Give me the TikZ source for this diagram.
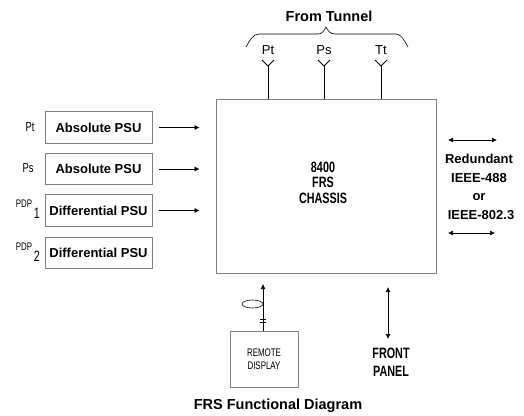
\documentclass[tikz,border=0pt]{standalone}
\usepackage{fontspec}
\setmainfont{Liberation Sans}
\newfontfamily\narrowf[FakeStretch=0.72]{Liberation Sans}
\usetikzlibrary{arrows.meta,calc}
\tikzset{
  x=1pt,y=-1pt,
  grayline/.style={draw=black!50,line width=0.8pt},
  psubox/.style={grayline,minimum width=107pt,minimum height=31.5pt,inner sep=0pt,font=\fontsize{13}{15}\selectfont\bfseries},
  lab/.style={inner sep=0pt,align=center,font=\fontsize{15}{17}\selectfont\narrowf\bfseries},
  biglab/.style={inner sep=0pt,font=\fontsize{14.5}{16}\selectfont\bfseries},
  small/.style={inner sep=0pt,font=\fontsize{13}{15}\selectfont},
  narrow/.style={inner sep=0pt,font=\fontsize{13}{15}\selectfont\narrowf},
  arr/.style={line width=0.7pt,-{Latex[length=5pt,width=5pt]}},
  darr/.style={line width=0.7pt,{Latex[length=5pt,width=5pt]}-{Latex[length=5pt,width=5pt]}},
  feed/.style={line width=0.8pt}
}
\begin{document}
\begin{tikzpicture}
\useasboundingbox (0,0) rectangle (524,415);
% chassis
\node[grayline,minimum width=220pt,minimum height=174pt,inner sep=0pt] (chassis) at (326,186) {};
\node[lab] (c1) at (323,167) {8400};
\node[lab] (c2) at (323,182) {FRS};
\node[lab] (c3) at (323,198) {CHASSIS};
% top
\node[biglab] (tunnel) at (329,16) {From Tunnel};
\draw[line width=0.6pt] (246,47) .. controls (250,40) and (253,34) .. (259,34) -- (318,34) .. controls (322,34) and (324,31) .. (326,27) .. controls (328,31) and (330,34) .. (335,34) -- (396,34) .. controls (401,34) and (404,40) .. (408,47);
\foreach \n/\t/\x in {a/Pt/268,b/Ps/324,c/Tt/381}{
  \node[small] (lab\n) at (\x,50) {\t};
  \coordinate (j\n) at (\x,66);
  \coordinate (l\n) at (\x-6,60);
  \coordinate (r\n) at (\x+6,60);
  \draw[feed] (l\n) -- (j\n) -- (r\n);
  \draw[feed] (j\n) -- (j\n|-chassis.north);
}
% PSU
\node[psubox] (p1) at (98.5,127.5) {Absolute PSU};
\node[psubox] (p2) at (98.5,169) {Absolute PSU};
\node[psubox] (p3) at (98.5,210.5) {Differential PSU};
\node[psubox] (p4) at (98.5,253) {Differential PSU};
\foreach \n in {p1,p2,p3}{
  \draw[arr,shorten <=7pt,shorten >=16pt] (\n.east) -- (\n.east-|chassis.west);
}
\node[narrow] (l1) at (30,127) {Pt};
\node[narrow] (l2) at (28,168) {Ps};
\node[narrow,font=\fontsize{11}{13}\selectfont\narrowf] (l3) at (24,204) {PDP};
\node[narrow,font=\fontsize{15}{17}\selectfont\narrowf] (l3s) at (37,213) {1};
\node[narrow,font=\fontsize{11}{13}\selectfont\narrowf] (l4) at (24,247) {PDP};
\node[narrow,font=\fontsize{15}{17}\selectfont\narrowf] (l4s) at (37,256) {2};
% right
\coordinate (ra1) at (448,140); \coordinate (ra2) at (497,140);
\coordinate (rb1) at (448,233); \coordinate (rb2) at (495,233);
\draw[darr] (ra1) -- (ra2);
\draw[darr] (rb1) -- (rb2);
\node[psubox,draw=none,minimum width=0pt,minimum height=0pt] (r1) at (479,159) {Redundant};
\node[psubox,draw=none,minimum width=0pt,minimum height=0pt] (r2) at (479,178) {IEEE-488};
\node[psubox,draw=none,minimum width=0pt,minimum height=0pt] (r3) at (479,197) {or};
\node[psubox,draw=none,minimum width=0pt,minimum height=0pt] (r4) at (481,215.5) {IEEE-802.3};
% remote
\node[grayline,minimum width=68pt,minimum height=56pt,inner sep=0pt,align=center,font=\fontsize{11}{12.5}\selectfont\narrowf] (rd) at (264,359) {REMOTE\\DISPLAY};
\coordinate (rtop) at (263,284);
\draw[arr] (rtop|-rd.north) -- (rtop);
\draw[line width=0.6pt] (252.5,304) ellipse [x radius=10.5,y radius=4];
\coordinate (t1a) at (260,319); \coordinate (t1b) at (266,319);
\coordinate (t2a) at (260,322); \coordinate (t2b) at (266,322);
\draw[line width=0.5pt] (t1a) -- (t1b) (t2a) -- (t2b);
% front
\coordinate (f1) at (388,287); \coordinate (f2) at (388,339);
\draw[darr] (f1) -- (f2);
\node[lab] (f3) at (391,353) {FRONT};
\node[lab] (f4) at (391,371) {PANEL};
\node[biglab] (title) at (278,406) {FRS Functional Diagram};
\end{tikzpicture}
\end{document}
